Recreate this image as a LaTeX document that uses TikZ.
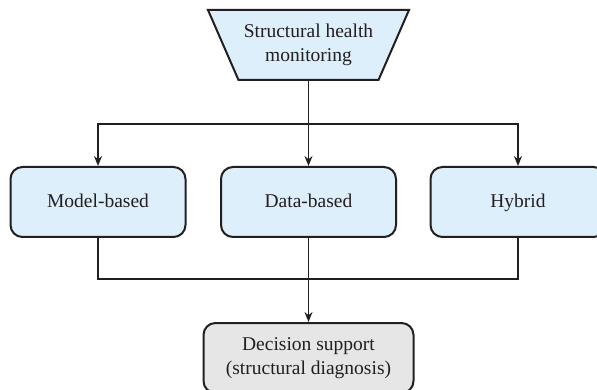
\documentclass[tikz,border=0pt]{standalone}
\usepackage{fontspec}
\setmainfont{Liberation Serif}
\usetikzlibrary{arrows.meta}
\definecolor{boxblue}{HTML}{DDEFFA}
\definecolor{boxgray}{HTML}{E6E6E7}
\definecolor{ink}{HTML}{231F20}
\tikzset{
  every node/.style={font=\fontsize{19.5}{24}\selectfont, text=ink, align=center},
  conn/.style={draw=ink, line width=1.8pt},
  arr/.style={conn, -{Stealth[length=10pt,width=8pt]}},
  methodbox/.style={draw=ink, line width=2pt, fill=boxblue, rounded corners=12pt,
    minimum width=175pt, minimum height=70pt, inner sep=0pt,
    text height=15pt, text depth=3pt},
  decisionbox/.style={draw=ink, line width=2pt, fill=boxgray, rounded corners=12pt,
    minimum width=210pt, minimum height=70pt, inner sep=0pt},
  titlebox/.style={minimum width=141pt, minimum height=70pt, inner sep=0pt}
}
\begin{document}
\begin{tikzpicture}[x=1pt,y=-1pt]
\clip (0,0) rectangle (597,390);
\fill[white] (0,0) rectangle (597,390);
% trapezoid
\filldraw[fill=boxblue, draw=ink, line width=2pt, line join=miter]
  (208,10) -- (409,10) -- (378.5,80) -- (238.5,80) -- cycle;
\node[titlebox] (shm) at (308.5,45) {Structural health\\monitoring};
\node[methodbox] (model) at (98,202) {Model-based};
\node[methodbox] (data) at (308.5,202) {Data-based};
\node[methodbox] (hybrid) at (518,202) {Hybrid};
\node[decisionbox] (decision) at (308.5,358) {Decision support\\(structural diagnosis)};
\coordinate (j1) at (308.5,124);
\coordinate (j2) at (308.5,279);
\draw[conn] (shm.south) -- (j1);
\draw[arr] (j1) -| (model.north);
\draw[arr] (j1) -| (hybrid.north);
\draw[arr] (j1) -- (data.north);
\draw[conn] (model.south) |- (j2);
\draw[conn] (hybrid.south) |- (j2);
\draw[arr] (data.south) -- (decision.north);
\end{tikzpicture}
\end{document}
